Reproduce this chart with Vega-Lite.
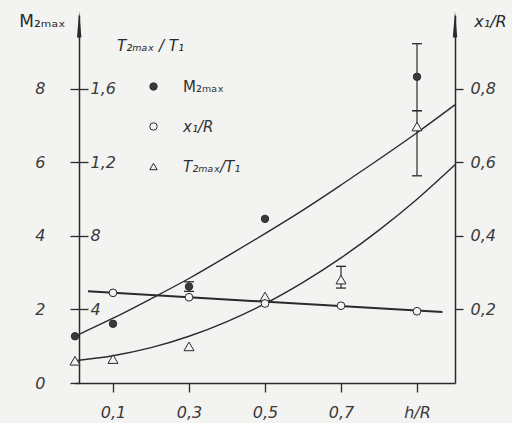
{
  "$schema": "https://vega.github.io/schema/vega-lite/v6.json",
  "width": 380,
  "height": 368,
  "autosize": {"type": "none"},
  "padding": {"left": 75, "top": 15, "right": 57, "bottom": 40},
  "background": "#f3f3f1",
  "config": {
    "view": {"stroke": null},
    "axis": {
      "grid": false,
      "labelFont": "DejaVu Sans",
      "labelFontStyle": "italic",
      "labelFontSize": 16,
      "labelColor": "#3a3a3a",
      "domainColor": "#2a2a2a",
      "tickColor": "#2a2a2a",
      "domainWidth": 1.5,
      "tickWidth": 1.3,
      "titleFont": "DejaVu Sans",
      "titleColor": "#2a2a2a",
      "titleFontWeight": "normal"
    },
    "legend": {
      "orient": "none",
      "legendX": 71,
      "legendY": 64,
      "padding": 0,
      "rowPadding": 24,
      "labelOffset": 22,
      "labelFont": "DejaVu Sans",
      "labelFontSize": 15,
      "labelColor": "#333333",
      "symbolSize": 55,
      "symbolStrokeWidth": 1
    }
  },
  "datasets": {
    "mcurve": [
      {"h": 0.0, "M": 1.27}, {"h": 0.1, "M": 1.76}, {"h": 0.2, "M": 2.29},
      {"h": 0.3, "M": 2.84}, {"h": 0.4, "M": 3.44}, {"h": 0.5, "M": 4.06},
      {"h": 0.6, "M": 4.70}, {"h": 0.7, "M": 5.38}, {"h": 0.8, "M": 6.08},
      {"h": 0.9, "M": 6.80}, {"h": 1.0, "M": 7.56}
    ],
    "mpts": [
      {"h": 0.0, "M": 1.27}, {"h": 0.1, "M": 1.61}, {"h": 0.3, "M": 2.62},
      {"h": 0.5, "M": 4.46}, {"h": 0.9, "M": 8.32}
    ],
    "merr": [
      {"h": 0.3, "lo": 2.49, "hi": 2.75},
      {"h": 0.9, "lo": 7.40, "hi": 9.22}
    ],
    "arrows": [
      {"h": 0.011, "M": 9.74},
      {"h": 1.0, "M": 9.74}
    ],
    "tcurve": [
      {"h": 0.0, "T": 0.121}, {"h": 0.1, "T": 0.148}, {"h": 0.2, "T": 0.192},
      {"h": 0.3, "T": 0.254}, {"h": 0.4, "T": 0.334}, {"h": 0.5, "T": 0.431},
      {"h": 0.6, "T": 0.547}, {"h": 0.7, "T": 0.680}, {"h": 0.8, "T": 0.831},
      {"h": 0.9, "T": 0.999}, {"h": 1.0, "T": 1.186}
    ],
    "tpts": [
      {"h": 0.0, "T": 0.121}, {"h": 0.1, "T": 0.13}, {"h": 0.3, "T": 0.199},
      {"h": 0.5, "T": 0.47}, {"h": 0.7, "T": 0.562}, {"h": 0.9, "T": 1.394}
    ],
    "terr": [
      {"h": 0.7, "lo": 0.516, "hi": 0.634},
      {"h": 0.9, "lo": 1.126, "hi": 1.48}
    ],
    "xline": [
      {"h": 0.034, "X": 0.249}, {"h": 0.967, "X": 0.193}
    ],
    "xpts": [
      {"h": 0.1, "X": 0.245}, {"h": 0.3, "X": 0.233}, {"h": 0.5, "X": 0.216},
      {"h": 0.7, "X": 0.21}, {"h": 0.9, "X": 0.195}
    ]
  },
  "encoding": {
    "x": {
      "field": "h",
      "type": "quantitative",
      "scale": {"domain": [0, 1], "nice": false, "zero": false},
      "axis": {
        "orient": "bottom",
        "title": null,
        "values": [0.1, 0.3, 0.5, 0.7, 0.9],
        "tickSize": 9,
        "labelPadding": 12,
        "labelExpr": "datum.value > 0.85 ? 'h/R' : replace(format(datum.value, '.1f'), '.', ',')"
      }
    }
  },
  "layer": [
    {
      "data": {"name": "mcurve"},
      "mark": {"type": "line", "interpolate": "monotone", "stroke": "#2a2a2a", "strokeWidth": 1.4},
      "encoding": {
        "y": {
          "field": "M",
          "type": "quantitative",
          "scale": {"domain": [0, 10], "nice": false},
          "axis": {
            "orient": "left",
            "offset": -4,
            "values": [0, 2, 4, 6, 8],
            "format": "d",
            "tickSize": 9,
            "labelPadding": 25,
            "title": "M₂ₘₐₓ",
            "titleAngle": 0,
            "titleX": -37,
            "titleY": 6,
            "titleAlign": "center",
            "titleBaseline": "middle",
            "titleFontSize": 17,
            "titleFontStyle": "normal"
          }
        }
      }
    },
    {
      "data": {"name": "tcurve"},
      "mark": {"type": "line", "interpolate": "monotone", "stroke": "#2a2a2a", "strokeWidth": 1.4},
      "encoding": {
        "y": {
          "field": "T",
          "type": "quantitative",
          "scale": {"domain": [0, 2], "nice": false},
          "axis": {
            "orient": "right",
            "offset": -376,
            "domain": false,
            "values": [0.4, 0.8, 1.2, 1.6],
            "tickSize": 9,
            "labelPadding": 2,
            "labelExpr": "datum.value == 0.4 ? '4' : datum.value == 0.8 ? '8' : replace(format(datum.value, '.1f'), '.', ',')",
            "title": "T₂ₘₐₓ / T₁",
            "titleAngle": 0,
            "titleX": 71,
            "titleY": 30,
            "titleAlign": "center",
            "titleBaseline": "middle",
            "titleFontSize": 15,
            "titleFontStyle": "italic"
          }
        }
      }
    },
    {
      "data": {"name": "xline"},
      "mark": {"type": "line", "stroke": "#2a2a2a", "strokeWidth": 2},
      "encoding": {
        "y": {
          "field": "X",
          "type": "quantitative",
          "scale": {"domain": [0, 1], "nice": false},
          "axis": {
            "orient": "right",
            "offset": 0,
            "values": [0.2, 0.4, 0.6, 0.8],
            "tickSize": 8,
            "labelPadding": 7,
            "labelExpr": "replace(format(datum.value, '.1f'), '.', ',')",
            "title": "x₁/R",
            "titleAngle": 0,
            "titleX": 35,
            "titleY": 6,
            "titleAlign": "center",
            "titleBaseline": "middle",
            "titleFontSize": 16,
            "titleFontStyle": "italic"
          }
        }
      }
    },
    {
      "data": {"name": "merr"},
      "mark": {"type": "rule", "stroke": "#2a2a2a", "strokeWidth": 1.2},
      "encoding": {
        "y": {"field": "lo", "type": "quantitative", "scale": {"domain": [0, 10], "nice": false}, "axis": null},
        "y2": {"field": "hi"}
      }
    },
    {
      "data": {"name": "merr"},
      "mark": {"type": "tick", "orient": "horizontal", "color": "#2a2a2a", "size": 10, "thickness": 1.3, "opacity": 1},
      "encoding": {
        "y": {"field": "lo", "type": "quantitative", "scale": {"domain": [0, 10], "nice": false}, "axis": null}
      }
    },
    {
      "data": {"name": "merr"},
      "mark": {"type": "tick", "orient": "horizontal", "color": "#2a2a2a", "size": 10, "thickness": 1.3, "opacity": 1},
      "encoding": {
        "y": {"field": "hi", "type": "quantitative", "scale": {"domain": [0, 10], "nice": false}, "axis": null}
      }
    },
    {
      "data": {"name": "terr"},
      "mark": {"type": "rule", "stroke": "#2a2a2a", "strokeWidth": 1.2},
      "encoding": {
        "y": {"field": "lo", "type": "quantitative", "scale": {"domain": [0, 2], "nice": false}, "axis": null},
        "y2": {"field": "hi"}
      }
    },
    {
      "data": {"name": "terr"},
      "mark": {"type": "tick", "orient": "horizontal", "color": "#2a2a2a", "size": 10, "thickness": 1.3, "opacity": 1},
      "encoding": {
        "y": {"field": "lo", "type": "quantitative", "scale": {"domain": [0, 2], "nice": false}, "axis": null}
      }
    },
    {
      "data": {"name": "terr"},
      "mark": {"type": "tick", "orient": "horizontal", "color": "#2a2a2a", "size": 10, "thickness": 1.3, "opacity": 1},
      "encoding": {
        "y": {"field": "hi", "type": "quantitative", "scale": {"domain": [0, 2], "nice": false}, "axis": null}
      }
    },
    {
      "data": {"name": "mpts"},
      "mark": {"type": "point", "filled": true, "strokeWidth": 1, "size": 55, "opacity": 1},
      "encoding": {
        "y": {"field": "M", "type": "quantitative", "scale": {"domain": [0, 10], "nice": false}, "axis": null},
        "shape": {
          "datum": "M₂ₘₐₓ",
          "type": "nominal",
          "scale": {"domain": ["M₂ₘₐₓ", "x₁/R", "T₂ₘₐₓ/T₁"], "range": ["circle", "circle", "triangle-up"]},
          "legend": {"title": null, "labelFontStyle": {"expr": "datum.label == 'M₂ₘₐₓ' ? 'normal' : 'italic'"}}
        },
        "fill": {
          "datum": "M₂ₘₐₓ",
          "type": "nominal",
          "scale": {"domain": ["M₂ₘₐₓ", "x₁/R", "T₂ₘₐₓ/T₁"], "range": ["#3a3a3a", "#f3f3f1", "#f3f3f1"]},
          "legend": {"title": null}
        },
        "stroke": {
          "datum": "M₂ₘₐₓ",
          "type": "nominal",
          "scale": {"domain": ["M₂ₘₐₓ", "x₁/R", "T₂ₘₐₓ/T₁"], "range": ["#2a2a2a", "#2a2a2a", "#2a2a2a"]},
          "legend": {"title": null}
        }
      }
    },
    {
      "data": {"name": "tpts"},
      "mark": {"type": "point", "filled": true, "strokeWidth": 1, "size": 100, "opacity": 1},
      "encoding": {
        "y": {"field": "T", "type": "quantitative", "scale": {"domain": [0, 2], "nice": false}, "axis": null},
        "shape": {"datum": "T₂ₘₐₓ/T₁", "type": "nominal"},
        "fill": {"datum": "T₂ₘₐₓ/T₁", "type": "nominal"},
        "stroke": {"datum": "T₂ₘₐₓ/T₁", "type": "nominal"}
      }
    },
    {
      "data": {"name": "xpts"},
      "mark": {"type": "point", "filled": true, "strokeWidth": 1, "size": 60, "opacity": 1},
      "encoding": {
        "y": {"field": "X", "type": "quantitative", "scale": {"domain": [0, 1], "nice": false}, "axis": null},
        "shape": {"datum": "x₁/R", "type": "nominal"},
        "fill": {"datum": "x₁/R", "type": "nominal"},
        "stroke": {"datum": "x₁/R", "type": "nominal"}
      }
    },
    {
      "data": {"name": "arrows"},
      "mark": {"type": "point", "filled": true, "fill": "#2a2a2a", "strokeWidth": 0, "opacity": 1, "shape": "M0,-1L0.17,1L-0.17,1Z", "size": 676},
      "encoding": {
        "y": {"field": "M", "type": "quantitative", "scale": {"domain": [0, 10], "nice": false}, "axis": null}
      }
    }
  ],
  "resolve": {"scale": {"y": "independent"}}
}
